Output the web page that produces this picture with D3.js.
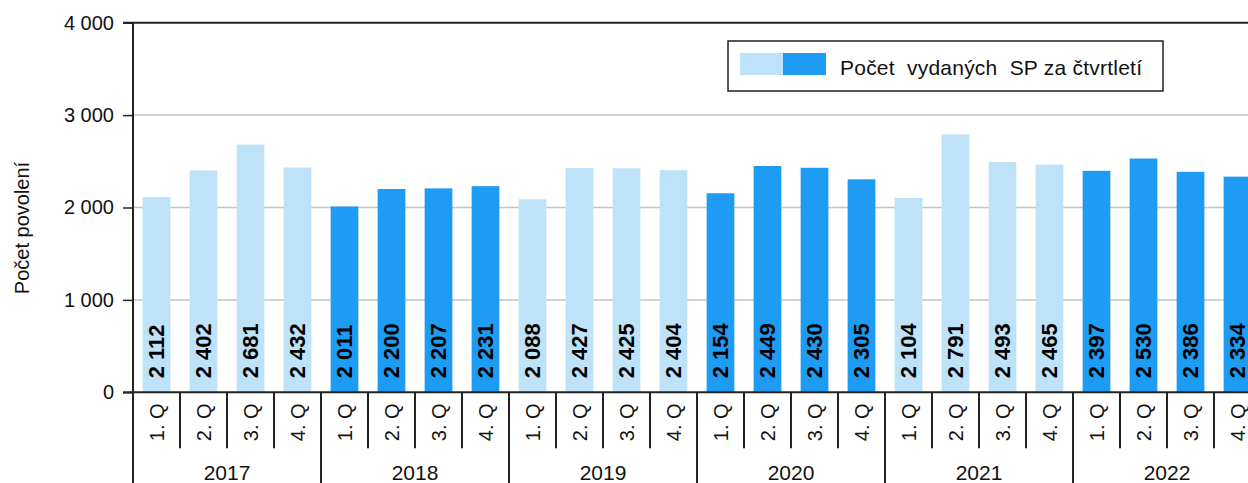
<!DOCTYPE html>
<html>
<head>
<meta charset="utf-8">
<script src="https://cdn.jsdelivr.net/npm/d3@7"></script>
<style>
  body { margin: 0; background: #fff; }
  svg { display: block; font-family: "Liberation Sans", Arial, sans-serif; }
</style>
</head>
<body>
<svg width="1248" height="483"></svg>
<script>
// data
const years = ["2017", "2018", "2019", "2020", "2021", "2022"];
const quarters = ["1. Q", "2. Q", "3. Q", "4. Q"];
const values = [2112, 2402, 2681, 2432, 2011, 2200, 2207, 2231, 2088, 2427, 2425, 2404,
                2154, 2449, 2430, 2305, 2104, 2791, 2493, 2465, 2397, 2530, 2386, 2334];
const yTicks = [0, 1000, 2000, 3000, 4000];
const legendLabel = "Počet  vydaných  SP za čtvrtletí";

const lightBlue = "#bee3f8", darkBlue = "#1e9bf2";

const width = 1248, height = 483;
const margin = {top: 22.7, left: 133, bottom: 90.7};
const bandW = 47;

const svg = d3.select("svg");

const rows = values.map((v, i) => ({
  key: i,
  year: years[Math.floor(i / 4)],
  yi: Math.floor(i / 4),
  q: quarters[i % 4],
  v: v
}));

const x = d3.scaleBand()
  .domain(rows.map(d => d.key))
  .range([margin.left, margin.left + bandW * rows.length])
  .paddingInner(0.41)
  .paddingOuter(0.205);

const y = d3.scaleLinear()
  .domain([0, 4000])
  .range([height - margin.bottom, margin.top]);

const fmt = v => d3.format(",")(v).replace(/,/g, " ");

// gridlines
svg.append("g")
  .selectAll("line")
  .data(yTicks.filter(t => t > 0 && t < 4000))
  .join("line")
    .attr("x1", margin.left)
    .attr("x2", width)
    .attr("y1", d => y(d))
    .attr("y2", d => y(d))
    .attr("stroke", "#c4c4c4")
    .attr("stroke-width", 1.5);

// bars
svg.append("g")
  .selectAll("rect")
  .data(rows)
  .join("rect")
    .attr("x", d => x(d.key))
    .attr("y", d => y(d.v))
    .attr("width", x.bandwidth())
    .attr("height", d => y(0) - y(d.v))
    .attr("fill", d => d.yi % 2 === 0 ? lightBlue : darkBlue);

// value labels
svg.append("g")
  .selectAll("text")
  .data(rows)
  .join("text")
    .attr("transform", d => `translate(${x(d.key) + x.bandwidth() / 2},${y(0) - 14}) rotate(-90)`)
    .attr("dominant-baseline", "central")
    .attr("font-size", "22px")
    .attr("font-weight", "bold")
    .attr("fill", "#000")
    .text(d => fmt(d.v));

// y axis
const yAxis = svg.append("g")
  .attr("transform", `translate(${margin.left},0)`)
  .call(d3.axisLeft(y).tickValues(yTicks).tickFormat(fmt).tickSize(10).tickPadding(9));
yAxis.select(".domain").remove();
yAxis.selectAll(".tick line").attr("stroke", "#222").attr("stroke-width", 1.5);
yAxis.selectAll(".tick text")
  .attr("font-size", "20px")
  .attr("font-family", "Liberation Sans, Arial, sans-serif")
  .attr("fill", "#111");

// frame lines
svg.append("line")
  .attr("x1", margin.left).attr("x2", margin.left)
  .attr("y1", y(4000)).attr("y2", height)
  .attr("stroke", "#222").attr("stroke-width", 2);
svg.append("line")
  .attr("x1", margin.left - 10).attr("x2", width)
  .attr("y1", y(4000)).attr("y2", y(4000))
  .attr("stroke", "#222").attr("stroke-width", 2);
svg.append("line")
  .attr("x1", margin.left - 10).attr("x2", width)
  .attr("y1", y(0)).attr("y2", y(0))
  .attr("stroke", "#222").attr("stroke-width", 2);

// category separators
svg.append("g")
  .selectAll("line")
  .data(rows.slice(1))
  .join("line")
    .attr("x1", d => x(d.key) - x.step() * x.paddingInner() / 2)
    .attr("x2", d => x(d.key) - x.step() * x.paddingInner() / 2)
    .attr("y1", y(0))
    .attr("y2", d => d.q === quarters[0] ? height : y(0) + 56)
    .attr("stroke", "#222")
    .attr("stroke-width", 2);

// quarter labels
svg.append("g")
  .selectAll("text")
  .data(rows)
  .join("text")
    .attr("transform", d => `translate(${x(d.key) + x.bandwidth() / 2},${y(0) + 30}) rotate(-90)`)
    .attr("text-anchor", "middle")
    .attr("dominant-baseline", "central")
    .attr("font-size", "20px")
    .attr("fill", "#111")
    .text(d => d.q);

// year labels
svg.append("g")
  .selectAll("text")
  .data(years)
  .join("text")
    .attr("x", (d, i) => x(i * 4) - x.step() * x.paddingOuter() + bandW * 2)
    .attr("y", 480)
    .attr("text-anchor", "middle")
    .attr("font-size", "21px")
    .attr("fill", "#111")
    .text(d => d);

// y title
svg.append("text")
  .attr("transform", `translate(22,228) rotate(-90)`)
  .attr("text-anchor", "middle")
  .attr("dominant-baseline", "central")
  .attr("font-size", "20px")
  .attr("fill", "#111")
  .text("Počet povolení");

// legend
const legend = svg.append("g").attr("transform", "translate(728,41)");
legend.append("rect")
  .attr("width", 435).attr("height", 50)
  .attr("fill", "#fff").attr("stroke", "#222").attr("stroke-width", 1.5);
legend.append("rect")
  .attr("x", 12).attr("y", 12).attr("width", 43).attr("height", 22)
  .attr("fill", lightBlue);
legend.append("rect")
  .attr("x", 55).attr("y", 12).attr("width", 43).attr("height", 22)
  .attr("fill", darkBlue);
legend.append("text")
  .attr("x", 112).attr("y", 34)
  .attr("font-size", "21px")
  .attr("fill", "#111")
  .attr("textLength", 302)
  .attr("lengthAdjust", "spacing")
  .style("white-space", "pre")
  .text(legendLabel);
</script>
</body>
</html>
